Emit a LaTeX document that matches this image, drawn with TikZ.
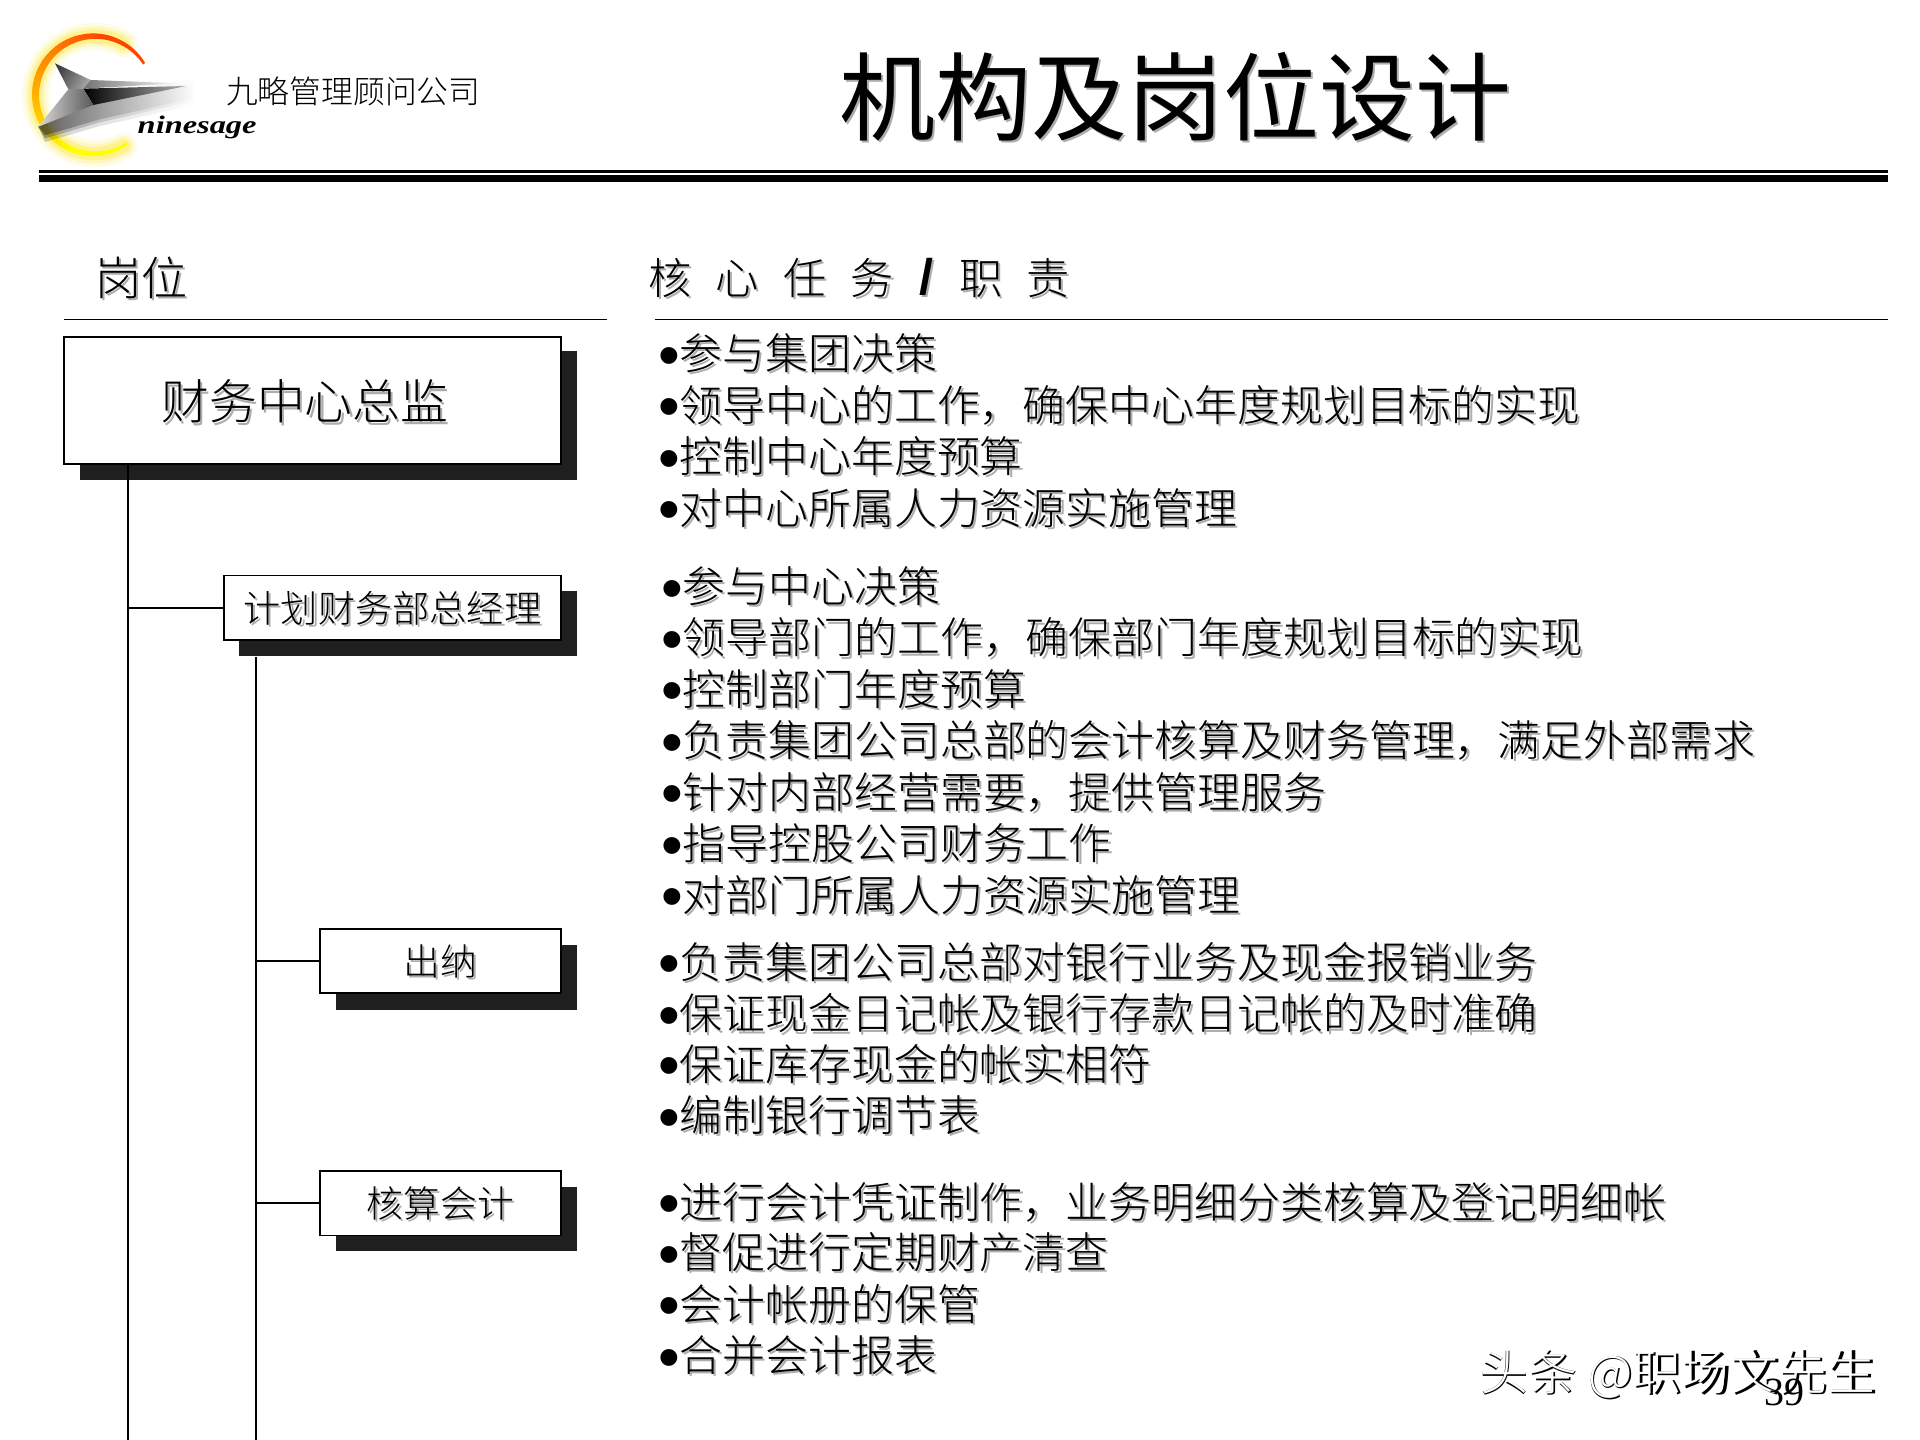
\documentclass[tikz,border=0pt]{standalone}
\usepackage{fontspec}
\usepackage{graphicx}
\setmainfont{Noto Sans CJK SC Light}
\newfontfamily\cjkm{Noto Sans CJK SC}
\newfontfamily\serifl{Liberation Serif}
\newfontfamily\sansl{Liberation Sans}
\usetikzlibrary{calc}
\definecolor{shadowgray}{gray}{0.68}
\definecolor{boxshadow}{HTML}{1F1F1F}
\newcommand\shd[1]{\leavevmode\rlap{\kern1.1pt\raisebox{-1.1pt}{\textcolor{shadowgray}{#1}}}#1}
\newcommand\cutmark[1]{\leavevmode\rlap{#1}\rlap{\kern-0.4pt\raisebox{0.7pt}{\textcolor{white}{\fontspec{Noto Sans CJK SC Light}#1}}}\phantom{#1}}
\newcommand\sz[1]{\fontsize{#1pt}{#1pt}\selectfont}
\newcommand\bul{\makebox[9.2pt][l]{\hspace*{-1.3pt}\sansl\fontsize{31pt}{31pt}\selectfont\raisebox{-3.3pt}{•}}}
\tikzset{
  txt/.style={inner sep=0pt,outer sep=0pt,text=black},
  itemline/.style={txt,anchor=base west,font=\sz{21.45}},
  pbox/.style={draw=black,fill=white,line width=0.95pt,inner sep=0pt,text depth=3pt},
  shadowbox/.style={fill=boxshadow,inner sep=0pt},
  conn/.style={draw=black,line width=0.85pt},
  rule/.style={draw=black,line width=0.85pt}
}
\begin{document}
\begin{tikzpicture}[x=0.6122pt,y=-0.6122pt]
\useasboundingbox (0,0) rectangle (1568,1176);
\fill[white] (0,0) rectangle (1568,1176);

% --- logo ring
\foreach \w/\o in {22/.10,16/.16,11/.25}{
  \draw[yellow!85!orange,line width=\w*0.6122pt,opacity=\o,line cap=round]
    plot[domain=60:300,samples=60,smooth] ({77+48*cos(\x)},{77.5-48*sin(\x)});
}
\foreach \a in {32,36,...,300}{
  \pgfmathsetmacro\gv{0.27+0.73*min(1,max(0,(\a-80)/165))}
  \pgfmathsetmacro\wd{0.6122*(2.2+3.6*sin((\a-32)*0.6667))}
  \definecolor{ringc}{rgb}{1,\gv,0}
  \draw[ringc,line width=\wd pt]
    ({77+48*cos(\a)},{77.5-48*sin(\a)}) -- ({77+48*cos(\a+4.6)},{77.5-48*sin(\a+4.6)});
}
% --- logo plane (coordinates of a 3x crop)
\begin{scope}[scale=0.2722]
  \foreach \d/\o in {26/.22,15/.32,6/.5}{
    \shade[left color=black!85,middle color=black!75,right color=white,opacity=\o]
      (135,{400+\d}) -- (115,380) -- (280,{315-\d}) -- (585,{262-\d}) -- (585,{288+\d}) -- (300,{352+\d}) -- cycle;
  }
  \shade[left color=black!75,right color=black!35,shading angle=60] (165,190) -- (272,240) -- (250,266) -- (205,268) -- cycle;
  \shade[left color=black!55,right color=white] (272,240) -- (540,250) -- (250,266) -- cycle;
  \shade[left color=black,right color=black!30] (250,266) -- (560,258) -- (280,315) -- cycle;
  \shade[left color=black!15,right color=black!65] (205,268) -- (250,266) -- (280,315) -- (115,380) -- cycle;
\end{scope}
\node[txt,anchor=center] (company) at (288.5,75) {\sz{15.9}九略管理顾问公司};
\node[txt,anchor=center] (brand) at (161,104) {\serifl\bfseries\itshape\sz{16.2}\scalebox{1}[0.78]{ninesage}};
\node[txt,anchor=center] (title) at (960,80) {\cjkm\sz{48}\shd{机构及岗位设计}};

% --- header rules
\fill[black] (32,139) rectangle (1542,141);
\fill[black] (32,143) rectangle (1542,148.6);
\node[txt,anchor=center] (h1) at (115.5,228) {\sz{23}\shd{岗位}};
\node[txt,anchor=center] (h2) at (701.5,228) {\sz{21.6}\shd{核\hspace{12.2pt}心\hspace{12.2pt}任\hspace{12.2pt}务\hspace{12.8pt}{\sansl\bfseries\sz{25}/}\hspace{12.8pt}职\hspace{12.2pt}责}};
\draw[rule] (52,261) -- (496,261);
\draw[rule] (535,261) -- (1542,261);

% --- boxes
\node[shadowbox,minimum width=406*0.6122pt,minimum height=105*0.6122pt] (s1) at (268,339.5) {};
\node[shadowbox,minimum width=276*0.6122pt,minimum height=53*0.6122pt] (s2) at (333,509.5) {};
\node[shadowbox,minimum width=197*0.6122pt,minimum height=53*0.6122pt] (s3) at (372.5,798.5) {};
\node[shadowbox,minimum width=197*0.6122pt,minimum height=53*0.6122pt] (s4) at (372.5,995.5) {};
\node[pbox,text height=22.4pt,minimum width=406*0.6122pt,minimum height=104*0.6122pt] (b1) at (255,327) {\sz{23.9}\hspace*{-7.3pt}\shd{财务中心总监}};
\node[pbox,text height=17.4pt,minimum width=275*0.6122pt,minimum height=53*0.6122pt] (b2) at (320.5,496.5) {\sz{18.6}\shd{计划财务部总经理}};
\node[pbox,text height=17.2pt,minimum width=197*0.6122pt,minimum height=52*0.6122pt] (b3) at (359.5,785) {\sz{18.4}\shd{出纳}};
\node[pbox,text height=17.2pt,minimum width=197*0.6122pt,minimum height=53*0.6122pt] (b4) at (359.5,982.5) {\sz{18.4}\shd{核算会计}};

% --- connectors
\coordinate (end1) at (104.5,1176);
\coordinate (end2) at (209,1176);
\draw[conn] (b1.south -| end1) -- (end1);
\draw[conn] (s2.south -| end2) -- (end2);
\draw[conn] (b2.west) -- (b2.west -| end1);
\draw[conn] (b3.west) -- (b3.west -| end2);
\draw[conn] (b4.west) -- (b4.west -| end2);

% --- task lists
\node[itemline] (a1) at (540,302) {\bul\shd{参与集团决策}};
\node[itemline] (a2) at (540,344) {\bul\shd{领导中心的工作，确保中心年度规划目标的实现}};
\node[itemline] (a3) at (540,386) {\bul\shd{控制中心年度预算}};
\node[itemline] (a4) at (540,428) {\bul\shd{对中心所属人力资源实施管理}};

\node[itemline] (c1) at (542.5,492) {\bul\shd{参与中心决策}};
\node[itemline] (c2) at (542.5,534) {\bul\shd{领导部门的工作，确保部门年度规划目标的实现}};
\node[itemline] (c3) at (542.5,576) {\bul\shd{控制部门年度预算}};
\node[itemline] (c4) at (542.5,618) {\bul\shd{负责集团公司总部的会计核算及财务管理，满足外部需求}};
\node[itemline] (c5) at (542.5,660) {\bul\shd{针对内部经营需要，提供管理服务}};
\node[itemline] (c6) at (542.5,702) {\bul\shd{指导控股公司财务工作}};
\node[itemline] (c7) at (542.5,744) {\bul\shd{对部门所属人力资源实施管理}};

\node[itemline] (d1) at (540,799) {\bul\shd{负责集团公司总部对银行业务及现金报销业务}};
\node[itemline] (d2) at (540,841) {\bul\shd{保证现金日记帐及银行存款日记帐的及时准确}};
\node[itemline] (d3) at (540,882) {\bul\shd{保证库存现金的帐实相符}};
\node[itemline] (d4) at (540,924) {\bul\shd{编制银行调节表}};

\node[itemline] (e1) at (540,995) {\bul\shd{进行会计凭证制作，业务明细分类核算及登记明细帐}};
\node[itemline] (e2) at (540,1036) {\bul\shd{督促进行定期财产清查}};
\node[itemline] (e3) at (540,1078) {\bul\shd{会计帐册的保管}};
\node[itemline] (e4) at (540,1120) {\bul\shd{合并会计报表}};

% --- watermark and page number
\node[txt,anchor=center] (wm) at (1371.5,1123) {\cjkm\sz{24.3}\cutmark{头条 @职场文先生}};
\node[txt,anchor=center] (page) at (1457,1137) {\serifl\sz{20}39};
\end{tikzpicture}
\end{document}
